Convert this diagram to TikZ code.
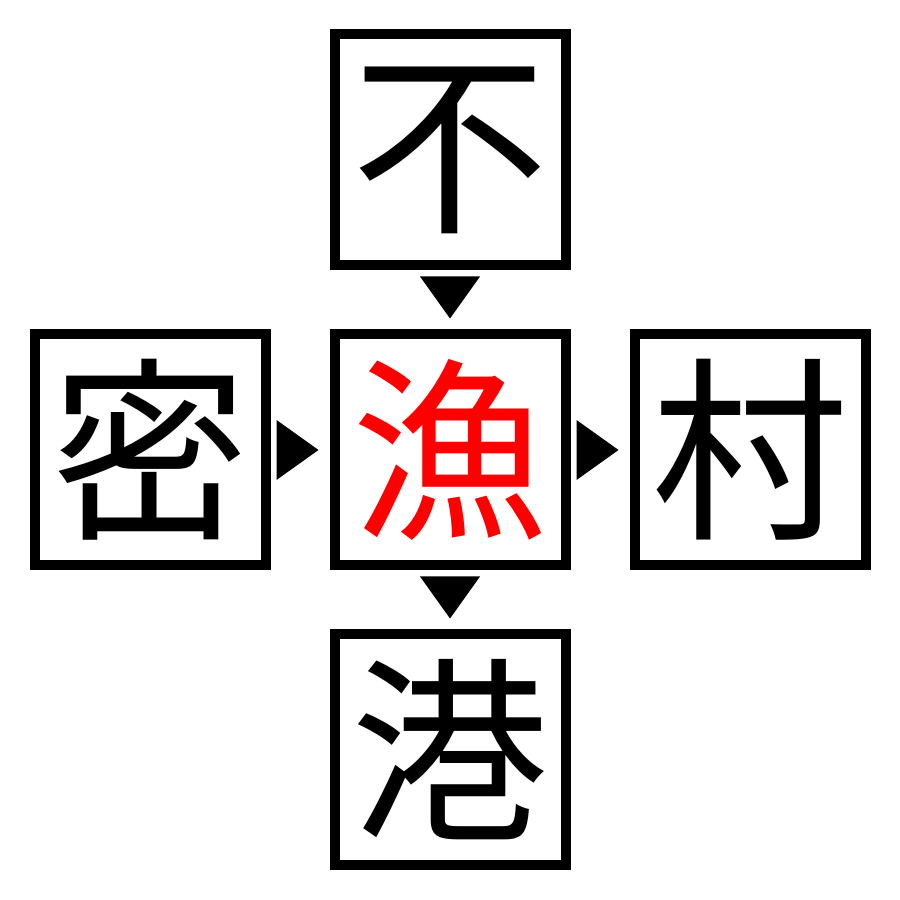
\documentclass[tikz,border=0pt]{standalone}
\usepackage{fontspec}
\newfontfamily\cjk{Noto Sans CJK JP}
\usetikzlibrary{calc}
\begin{document}
\begin{tikzpicture}[x=1cm, y=1cm, line join=miter,
	kanji/.style={draw, line width=1mm, minimum size=2.31cm, inner sep=0pt, font=\cjk\fontsize{56}{56}\selectfont}]
	\useasboundingbox (0,0) rectangle (9,9);
	\node[kanji] (bu) at (4.5,7.5) {不};
	\node[kanji] (mi) at (1.5,4.5) {密};
	\node[kanji, text=red] (yu) at (4.5,4.5) {漁};
	\node[kanji] (cun) at (7.5,4.5) {村};
	\node[kanji] (gang) at (4.5,1.5) {港};
	\foreach \a/\b in {bu/yu, yu/gang}
		\fill ($(\b.north)+(0,.11)$) -- ++(-.3,.42) -- ++(.6,0) -- cycle;
	\foreach \a/\b in {mi/yu, yu/cun}
		\fill ($(\b.west)+(-.11,0)$) -- ++(-.42,.3) -- ++(0,-.6) -- cycle;
\end{tikzpicture}
\end{document}
